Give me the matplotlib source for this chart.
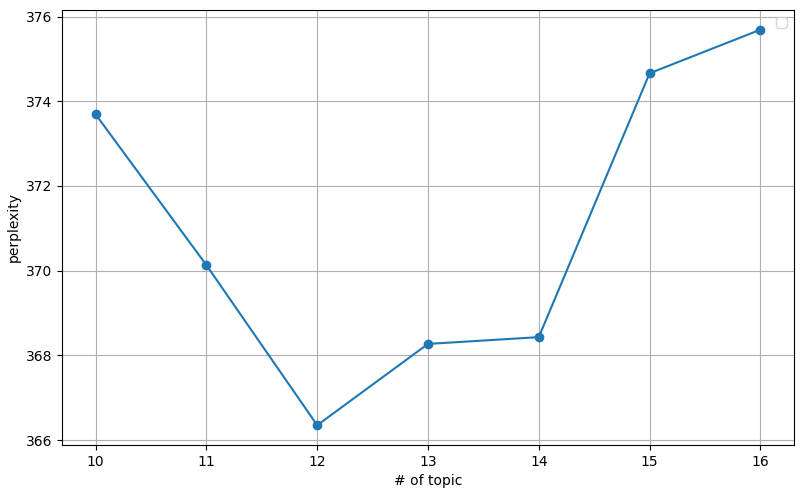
import matplotlib
matplotlib.use('Agg')
import matplotlib.pyplot as plt

topics = [10, 11, 12, 13, 14, 15, 16]
perplexity = [373.69, 370.13, 366.35, 368.27, 368.43, 374.66, 375.69]

fig = plt.figure(figsize=(8, 4.95), dpi=100)
ax = fig.add_axes([0.078, 0.101, 0.914, 0.879])
ax.plot(topics, perplexity, marker='o')
ax.set_xlabel('# of topic')
ax.set_ylabel('perplexity')
ax.grid(True)
ax.legend()

fig.savefig('out.png', dpi=100)
